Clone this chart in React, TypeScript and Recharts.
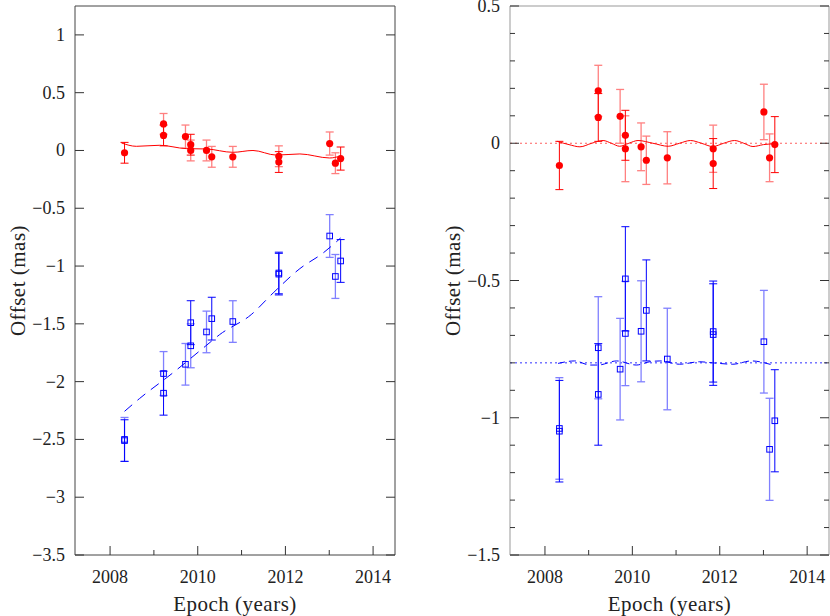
import React from 'react';
import { ScatterChart, Scatter, XAxis, YAxis, ErrorBar, ReferenceLine, Label } from 'recharts';

// red source: epochs (yr), offsets (mas) and 1-sigma errors
const redEpochs = [2008.33, 2009.22, 2009.22, 2009.72, 2009.84, 2009.84, 2010.2, 2010.32, 2010.8, 2011.85, 2011.85, 2013.01, 2013.14, 2013.26];
const redOffsets = [-0.02, 0.23, 0.13, 0.12, 0.05, 0.0, 0.0, -0.055, -0.055, -0.05, -0.1, 0.06, -0.11, -0.07];
const redErrors = [0.09, 0.09, 0.09, 0.1, 0.09, 0.09, 0.09, 0.09, 0.09, 0.09, 0.09, 0.1, 0.09, 0.1];
const redResiduals = [-0.081, 0.191, 0.094, 0.098, 0.029, -0.02, -0.013, -0.062, -0.053, -0.02, -0.074, 0.114, -0.053, -0.005];
const redResidualErrors = [0.088, 0.093, 0.087, 0.098, 0.091, 0.12, 0.087, 0.088, 0.095, 0.086, 0.091, 0.101, 0.087, 0.102];
const redFaint = [false, true, false, true, false, true, true, true, true, true, false, true, true, false];

// blue source
const blueEpochs = [2008.33, 2008.33, 2009.22, 2009.22, 2009.72, 2009.84, 2009.84, 2010.2, 2010.32, 2010.8, 2011.85, 2011.85, 2013.01, 2013.14, 2013.26];
const blueOffsets = [-2.5, -2.51, -1.93, -2.1, -1.85, -1.49, -1.69, -1.57, -1.455, -1.48, -1.06, -1.07, -0.74, -1.09, -0.956];
const blueErrors = [0.19, 0.18, 0.19, 0.19, 0.18, 0.19, 0.19, 0.18, 0.185, 0.18, 0.18, 0.18, 0.185, 0.19, 0.185];
const blueResiduals = [-1.039, -1.049, -0.745, -0.915, -0.823, -0.494, -0.693, -0.685, -0.609, -0.786, -0.686, -0.697, -0.723, -1.115, -1.011];
const blueResidualErrors = [0.185, 0.185, 0.186, 0.185, 0.185, 0.19, 0.19, 0.184, 0.184, 0.185, 0.184, 0.185, 0.187, 0.186, 0.186];
const blueFaint = [true, false, true, false, true, false, true, true, false, true, false, false, true, true, false];

// fitted models
const redModelEpochs = [2008.26, 2008.6, 2009.13, 2009.74, 2010.2, 2010.8, 2011.26, 2011.79, 2012.33, 2013.01, 2013.24];
const redModel = [0.065, 0.036, 0.045, 0.016, 0.013, -0.016, 0.0, -0.04, -0.03, -0.065, -0.05];
const blueModelEpochs = [2008.33, 2008.67, 2009.43, 2010.17, 2010.5, 2011.22, 2011.72, 2012.33, 2012.86, 2013.26];
const blueModel = [-2.257, -2.147, -1.925, -1.695, -1.593, -1.42, -1.233, -1.022, -0.887, -0.757];
const redResModelEpochs = [2008.28, 2008.55, 2008.8, 2009.07, 2009.33, 2009.52, 2009.71, 2009.92, 2010.13, 2010.47, 2010.82, 2011.08, 2011.33, 2011.58, 2011.84, 2012.09, 2012.34, 2012.55, 2012.76, 2013.0, 2013.25];
const redResModel = [0.007, -0.005, -0.013, 0.0, 0.01, 0.0, -0.011, 0.0, 0.01, 0.0, -0.011, 0.0, 0.01, 0.0, -0.012, 0.0, 0.01, 0.0, -0.012, -0.005, -0.002];
const blueResModelEpochs = [2008.3, 2008.68, 2009.03, 2009.22, 2009.64, 2010.09, 2010.4, 2010.63, 2011.08, 2011.54, 2011.84, 2012.3, 2012.72, 2013.21];
const blueResModel = [-0.802, -0.793, -0.808, -0.808, -0.793, -0.808, -0.796, -0.793, -0.805, -0.796, -0.8, -0.805, -0.793, -0.808];

// zero levels of the residual panel
const residualLevels = [0, -0.8];

const xTicks = [2008, 2009, 2010, 2011, 2012, 2013, 2014];
const leftYTicks = [-3.5, -3, -2.5, -2, -1.5, -1, -0.5, 0, 0.5, 1];
const rightYTicks = [-1.5, -1.4, -1.3, -1.2, -1.1, -1, -0.9, -0.8, -0.7, -0.6, -0.5, -0.4, -0.3, -0.2, -0.1, 0, 0.1, 0.2, 0.3, 0.4, 0.5];

const FONT = "'Liberation Serif', 'DejaVu Serif', serif";
const RED = '#ff0000';
const RED_FAINT = '#ff8080';
const BLUE = '#0000ff';
const BLUE_FAINT = '#8080ff';

type Row = { x: number; y: number; err: number };
const rows = (xs: number[], ys: number[], es?: number[]): Row[] =>
  xs.map((x, i) => ({ x, y: ys[i], err: es ? es[i] : 0 }));
const pick = (r: Row[], flags: boolean[], faint: boolean) => r.filter((_, i) => flags[i] === faint);

const isMajorY = (v: number) => Math.abs(v * 2 - Math.round(v * 2)) < 1e-6;
const fmtY = (v: number) => {
  const r = Math.round(v * 10) / 10;
  return (r < 0 ? '\u2212' : '') + String(Math.abs(r));
};

const Dot = (p: any) => <circle cx={p.cx} cy={p.cy} r={3.6} fill={RED} />;
const Box = (p: any) => (
  <rect x={p.cx - 2.8} y={p.cy - 2.8} width={5.6} height={5.6} fill="none" stroke={BLUE} strokeWidth={1} />
);
const NoShape = () => <g />;

const tickText = { fontFamily: FONT, fontSize: 18, fill: '#222' };

const makeTicks = (tickColor: string) => ({
  bottom: (p: any) => {
    const v = p.payload.value;
    const major = v % 2 === 0;
    return (
      <g>
        <line x1={p.x} x2={p.x} y1={p.y} y2={p.y - (major ? 9 : 5)} stroke={tickColor} />
        {major && (
          <text x={p.x} y={p.y + 22} textAnchor="middle" dominantBaseline="central" style={tickText}>
            {v}
          </text>
        )}
      </g>
    );
  },
  top: (p: any) => {
    const major = p.payload.value % 2 === 0;
    return <line x1={p.x} x2={p.x} y1={p.y} y2={p.y + (major ? 9 : 5)} stroke={tickColor} />;
  },
  left: (p: any) => {
    const v = p.payload.value;
    const major = isMajorY(v);
    return (
      <g>
        <line x1={p.x} x2={p.x + (major ? 9 : 5)} y1={p.y} y2={p.y} stroke={tickColor} />
        {major && (
          <text x={p.x - 10} y={p.y} textAnchor="end" dominantBaseline="central" style={tickText}>
            {fmtY(v)}
          </text>
        )}
      </g>
    );
  },
  right: (p: any) => {
    const major = isMajorY(p.payload.value);
    return <line x1={p.x} x2={p.x - (major ? 9 : 5)} y1={p.y} y2={p.y} stroke={tickColor} />;
  },
});

type PanelProps = {
  left: number;
  margin: { top: number; right: number; bottom: number; left: number };
  yDomain: [number, number];
  yTicks: number[];
  red: Row[];
  blue: Row[];
  redLine: Row[];
  blueLine: Row[];
  blueDash: string;
  levels?: number[];
  frame: string;
};

const Panel = ({ left, margin, yDomain, yTicks, red, blue, redLine, blueLine, blueDash, levels, frame }: PanelProps) => {
  const t = makeTicks('#333');
  const axisCommon = { tickLine: false, tickSize: 0, tickMargin: 0, interval: 0 as const, allowDataOverflow: true };
  const titleStyle = { fontFamily: FONT, fontSize: 21, letterSpacing: 0.5, fill: '#222' };
  return (
    <div style={{ position: 'absolute', left, top: 0 }}>
      <ScatterChart width={415} height={616} margin={margin}>
        <XAxis xAxisId="b" dataKey="x" type="number" domain={[2007.2, 2014.5]} ticks={xTicks} height={1}
          axisLine={{ stroke: '#444' }} tick={t.bottom} {...axisCommon}>
          <Label value="Epoch (years)" position="bottom" offset={40} style={titleStyle} />
        </XAxis>
        <XAxis xAxisId="t" orientation="top" type="number" domain={[2007.2, 2014.5]} ticks={xTicks} height={1}
          axisLine={{ stroke: frame }} tick={t.top} {...axisCommon} />
        <YAxis yAxisId="l" dataKey="y" type="number" domain={yDomain} ticks={yTicks} width={1}
          axisLine={{ stroke: frame }} tick={t.left} {...axisCommon}>
          <Label value="Offset (mas)" angle={-90} position="left" offset={56}
            style={{ ...titleStyle, textAnchor: 'middle' }} />
        </YAxis>
        <YAxis yAxisId="r" orientation="right" type="number" domain={yDomain} ticks={yTicks} width={1}
          axisLine={{ stroke: frame }} tick={t.right} {...axisCommon} />

        {levels && (
          <ReferenceLine xAxisId="b" yAxisId="l" y={levels[0]} stroke="#ff6060" strokeDasharray="2 3" strokeWidth={1.2} />
        )}
        {levels && (
          <ReferenceLine xAxisId="b" yAxisId="l" y={levels[1]} stroke="#3030ff" strokeDasharray="2 3" strokeWidth={1} />
        )}

        <Scatter xAxisId="b" yAxisId="l" data={redLine} shape={NoShape} line={{ stroke: RED, strokeWidth: 1 }}
          lineJointType="monotoneX" isAnimationActive={false} legendType="none" />
        <Scatter xAxisId="b" yAxisId="l" data={blueLine} shape={NoShape}
          line={{ stroke: BLUE, strokeWidth: 1, strokeDasharray: blueDash }}
          lineJointType="monotoneX" isAnimationActive={false} legendType="none" />

        <Scatter xAxisId="b" yAxisId="l" data={pick(red, redFaint, true)} shape={Dot} isAnimationActive={false}>
          <ErrorBar dataKey="err" direction="y" width={4} stroke={RED_FAINT} strokeWidth={1.3} isAnimationActive={false} />
        </Scatter>
        <Scatter xAxisId="b" yAxisId="l" data={pick(red, redFaint, false)} shape={Dot} isAnimationActive={false}>
          <ErrorBar dataKey="err" direction="y" width={4} stroke={RED} strokeWidth={1} isAnimationActive={false} />
        </Scatter>
        <Scatter xAxisId="b" yAxisId="l" data={pick(blue, blueFaint, true)} shape={Box} isAnimationActive={false}>
          <ErrorBar dataKey="err" direction="y" width={4} stroke={BLUE_FAINT} strokeWidth={1.3} isAnimationActive={false} />
        </Scatter>
        <Scatter xAxisId="b" yAxisId="l" data={pick(blue, blueFaint, false)} shape={Box} isAnimationActive={false}>
          <ErrorBar dataKey="err" direction="y" width={4} stroke={BLUE} strokeWidth={1} isAnimationActive={false} />
        </Scatter>
      </ScatterChart>
    </div>
  );
};

export default function App() {
  return (
    <div style={{ position: 'absolute', left: 0, top: 0, width: 830, height: 616, background: '#fff' }}>
      <Panel
        left={0}
        margin={{ top: 5, right: 19, bottom: 60, left: 74 }}
        yDomain={[-3.5, 1.25]}
        yTicks={leftYTicks}
        red={rows(redEpochs, redOffsets, redErrors)}
        blue={rows(blueEpochs, blueOffsets, blueErrors)}
        redLine={rows(redModelEpochs, redModel)}
        blueLine={rows(blueModelEpochs, blueModel)}
        blueDash="10 7"
        frame="#444"
      />
      <Panel
        left={415}
        margin={{ top: 5, right: 0, bottom: 60, left: 94 }}
        yDomain={[-1.5, 0.5]}
        yTicks={rightYTicks}
        red={rows(redEpochs, redResiduals, redResidualErrors)}
        blue={rows(blueEpochs, blueResiduals, blueResidualErrors)}
        redLine={rows(redResModelEpochs, redResModel)}
        blueLine={rows(blueResModelEpochs, blueResModel)}
        blueDash="7 4"
        levels={residualLevels}
        frame="#999"
      />
    </div>
  );
}
